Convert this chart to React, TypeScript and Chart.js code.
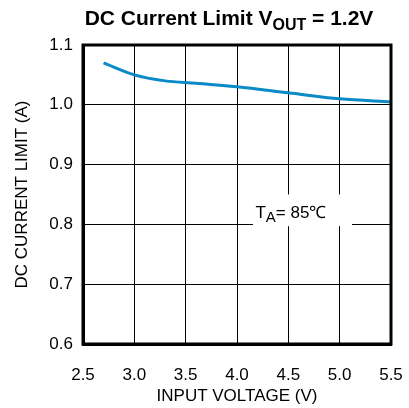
import React, { useEffect, useRef } from "react";
import { Chart, registerables } from "chart.js";

Chart.register(...registerables);

const inputVoltage = [2.7, 3.0, 3.3, 3.6, 4.0, 4.5, 5.0, 5.5];
const currentLimit = [1.07, 1.05, 1.04, 1.036, 1.03, 1.02, 1.01, 1.005];
const xTicks = [2.5, 3.0, 3.5, 4.0, 4.5, 5.0, 5.5];
const yTicks = [0.6, 0.7, 0.8, 0.9, 1.0, 1.1];

const FONT = "'Liberation Sans', Arial, Helvetica, sans-serif";

const overlayPlugin = {
  id: "overlay",
  afterDraw(chart: any) {
    const ctx = chart.ctx;
    const xs = chart.scales.x;
    const ys = chart.scales.y;
    ctx.save();
    // Annotation box
    const bx0 = xs.getPixelForValue(4.155);
    const bx1 = xs.getPixelForValue(5.12);
    const by0 = ys.getPixelForValue(0.85);
    const by1 = ys.getPixelForValue(0.797);
    ctx.fillStyle = "#ffffff";
    ctx.fillRect(bx0, by0, bx1 - bx0, by1 - by0);
    ctx.fillStyle = "#000";
    ctx.textBaseline = "alphabetic";
    ctx.textAlign = "left";
    ctx.font = `17px ${FONT}`;
    let tx = xs.getPixelForValue(4.18);
    const ty = ys.getPixelForValue(0.8) - 6;
    ctx.fillText("T", tx, ty);
    tx += ctx.measureText("T").width;
    ctx.font = `15px ${FONT}`;
    ctx.fillText("A", tx, ty + 4);
    tx += ctx.measureText("A").width;
    ctx.font = `17px ${FONT}`;
    ctx.fillText("= 85\u2103", tx, ty);

    // Title
    const main1 = "DC Current Limit V";
    const sub = "OUT";
    const main2 = " = 1.2V";
    ctx.font = `bold 21px ${FONT}`;
    const w1 = ctx.measureText(main1).width;
    const w3 = ctx.measureText(main2).width;
    ctx.font = `bold 16px ${FONT}`;
    const w2 = ctx.measureText(sub).width;
    const total = w1 + w2 + w3;
    const cx = 229;
    let x = cx - total / 2;
    const base = 25;
    ctx.font = `bold 21px ${FONT}`;
    ctx.fillText(main1, x, base);
    x += w1;
    ctx.font = `bold 16px ${FONT}`;
    ctx.fillText(sub, x, base + 5);
    x += w2;
    ctx.font = `bold 21px ${FONT}`;
    ctx.fillText(main2, x, base);

    // Frame
    const a = chart.chartArea;
    ctx.beginPath();
    ctx.strokeStyle = "#000000";
    ctx.lineWidth = 3;
    ctx.rect(a.left, a.top, a.right - a.left, a.bottom - a.top);
    ctx.stroke();
    ctx.restore();
  },
};

export default function App() {
  const ref = useRef<HTMLCanvasElement | null>(null);
  useEffect(() => {
    document.body.style.margin = "0";
    const canvas = ref.current!;
    const chart = new Chart(canvas, {
      type: "line",
      data: {
        datasets: [
          {
            data: inputVoltage.map((v, i) => ({ x: v, y: currentLimit[i] })),
            borderColor: "#0a8ac6",
            borderWidth: 3,
            pointRadius: 0,
            tension: 0.4,
            cubicInterpolationMode: "monotone",
            fill: false,
          },
        ],
      },
      options: {
        responsive: false,
        animation: false,
        layout: { padding: { top: 45, right: 18, bottom: 0, left: 0 } },
        plugins: { legend: { display: false }, tooltip: { enabled: false }, title: { display: false } },
        scales: {
          x: {
            type: "linear",
            min: 2.5,
            max: 5.5,
            afterBuildTicks: (s: any) => {
              s.ticks = xTicks.map((v) => ({ value: v }));
            },
            afterFit: (s: any) => {
              s.height = 64;
              s.paddingLeft = 0;
              s.paddingRight = 0;
            },
            ticks: {
              color: "#000",
              font: { family: FONT, size: 17 },
              padding: 21,
              maxRotation: 0,
              callback: (v: any) => Number(v).toFixed(1),
            },
            grid: { color: "#000", lineWidth: 1, drawTicks: false },
            border: { display: true, color: "#000", width: 3 },
            title: {
              display: true,
              text: "INPUT VOLTAGE (V)",
              color: "#000",
              font: { family: FONT, size: 17 },
              padding: { top: 0, bottom: 1 },
            },
          },
          y: {
            type: "linear",
            min: 0.6,
            max: 1.1,
            afterBuildTicks: (s: any) => {
              s.ticks = yTicks.map((v) => ({ value: v }));
            },
            afterFit: (s: any) => {
              s.width = 83;
              s.paddingTop = 0;
              s.paddingBottom = 0;
            },
            ticks: {
              color: "#000",
              font: { family: FONT, size: 17 },
              padding: 10,
              callback: (v: any) => Number(v).toFixed(1),
            },
            grid: { color: "#000", lineWidth: 1, drawTicks: false },
            border: { display: true, color: "#000", width: 3 },
            title: {
              display: true,
              text: "DC CURRENT LIMIT (A)",
              color: "#000",
              font: { family: FONT, size: 17 },
              padding: { top: 12, bottom: 0 },
            },
          },
        },
      },
      plugins: [overlayPlugin],
    } as any);
    return () => chart.destroy();
  }, []);
  return (
    <div style={{ position: "absolute", left: 0, top: 0, width: 409, height: 408, background: "#fff" }}>
      <canvas ref={ref} width={409} height={408} />
    </div>
  );
}
